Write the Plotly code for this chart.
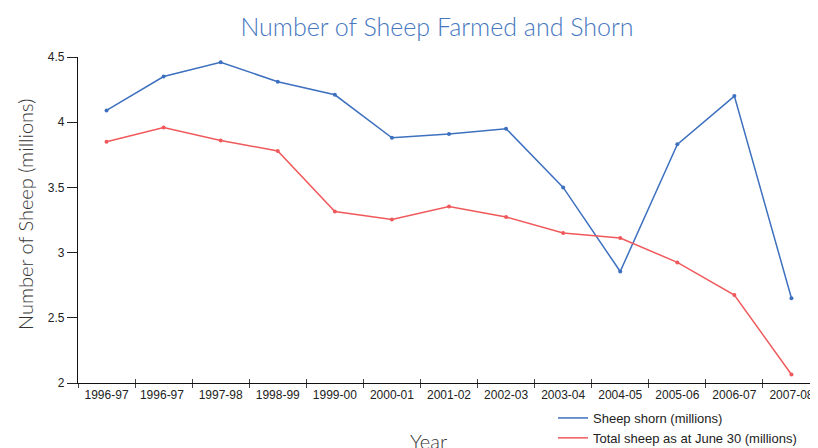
import plotly.graph_objects as go

years = ["1996-97", "1996-97 ", "1997-98", "1998-99", "1999-00", "2000-01", "2001-02",
         "2002-03", "2003-04", "2004-05", "2005-06", "2006-07", "2007-08"]
sheep_shorn = [4.09, 4.35, 4.46, 4.31, 4.21, 3.88, 3.91, 3.95, 3.50, 2.855, 3.83, 4.20, 2.65]
total_sheep = [3.85, 3.96, 3.86, 3.78, 3.315, 3.254, 3.354, 3.273, 3.15, 3.112, 2.925, 2.675, 2.065]

blue = "#3d70bf"
red = "#f0595b"
W, H = 818, 448
OFF = 8  # page body margin offset
L, T = 78 - OFF, 57 - OFF
R = W - (820 - OFF)
B = H - (383 - OFF)
PW, PH = W - L - R, H - T - B


def px(x):
    return (x - OFF - L) / PW


def py(y):
    return (H - B - (y - OFF)) / PH


fig = go.Figure()
fig.add_trace(go.Scatter(x=years, y=sheep_shorn, mode="lines+markers",
                         line=dict(color=blue, width=1.5), marker=dict(size=4, color=blue),
                         showlegend=False))
fig.add_trace(go.Scatter(x=years, y=total_sheep, mode="lines+markers",
                         line=dict(color=red, width=1.5), marker=dict(size=4, color=red),
                         showlegend=False))
fig.add_trace(go.Scatter(x=[None], y=[None], mode="lines", name="Sheep shorn (millions)",
                         line=dict(color=blue, width=1.5)))
fig.add_trace(go.Scatter(x=[None], y=[None], mode="lines", name="Total sheep as at June 30 (millions)",
                         line=dict(color=red, width=1.5)))
# second axis for inward tick halves
fig.add_trace(go.Scatter(x=years, y=total_sheep, xaxis="x2", mode="none", showlegend=False,
                         hoverinfo="skip"))

fig.update_layout(
    width=W, height=H,
    margin=dict(l=L, r=R, t=T, b=B, autoexpand=False),
    paper_bgcolor="white", plot_bgcolor="white",
    font=dict(family="Liberation Sans, Arial, sans-serif", size=12, color="#222"),
    title=dict(text="Number of Sheep Farmed and Shorn", x=(437 - OFF) / W, xanchor="center",
               y=1 - (27 - OFF) / H, yanchor="middle",
               font=dict(family="Lato", weight=300, size=25, color="#4677c0")),
    xaxis=dict(type="category", range=[-0.5, 12.5], showgrid=False, zeroline=False,
               showline=True, linecolor="#111", linewidth=1.2, automargin=False,
               ticks="outside", ticklen=4, tickcolor="#444", tickson="boundaries",
               tickfont=dict(size=12, color="#222"), fixedrange=True),
    xaxis2=dict(type="category", range=[-0.5, 12.5], overlaying="x",
                showgrid=False, zeroline=False, showline=False, showticklabels=False,
                ticks="inside", ticklen=4, tickcolor="#444", tickson="boundaries",
                anchor="y", side="bottom", automargin=False),
    yaxis=dict(range=[2, 4.5], dtick=0.5, tick0=2, showgrid=False, zeroline=False,
               showline=True, linecolor="#111", linewidth=1.2, automargin=False,
               ticks="outside", ticklen=10, tickcolor="#222",
               tickfont=dict(size=12, color="#222")),
    legend=dict(x=px(553), xanchor="left", y=py(403),
                yanchor="top", bgcolor="rgba(0,0,0,0)", font=dict(size=13, color="#222"),
                tracegroupgap=0, itemwidth=30),
    annotations=[
        dict(text="Number of Sheep (millions)", textangle=-90, xref="paper", yref="paper",
             x=px(25), y=py(215), xanchor="center",
             yanchor="middle", showarrow=False,
             font=dict(family="Lato", weight=300, size=20, color="#333")),
        dict(text="Year", xref="paper", yref="paper",
             x=px(428), y=py(441), xanchor="center",
             yanchor="middle", showarrow=False,
             font=dict(family="Lato", weight=300, size=20, color="#333")),
    ],
)

fig.write_html("out.html")
